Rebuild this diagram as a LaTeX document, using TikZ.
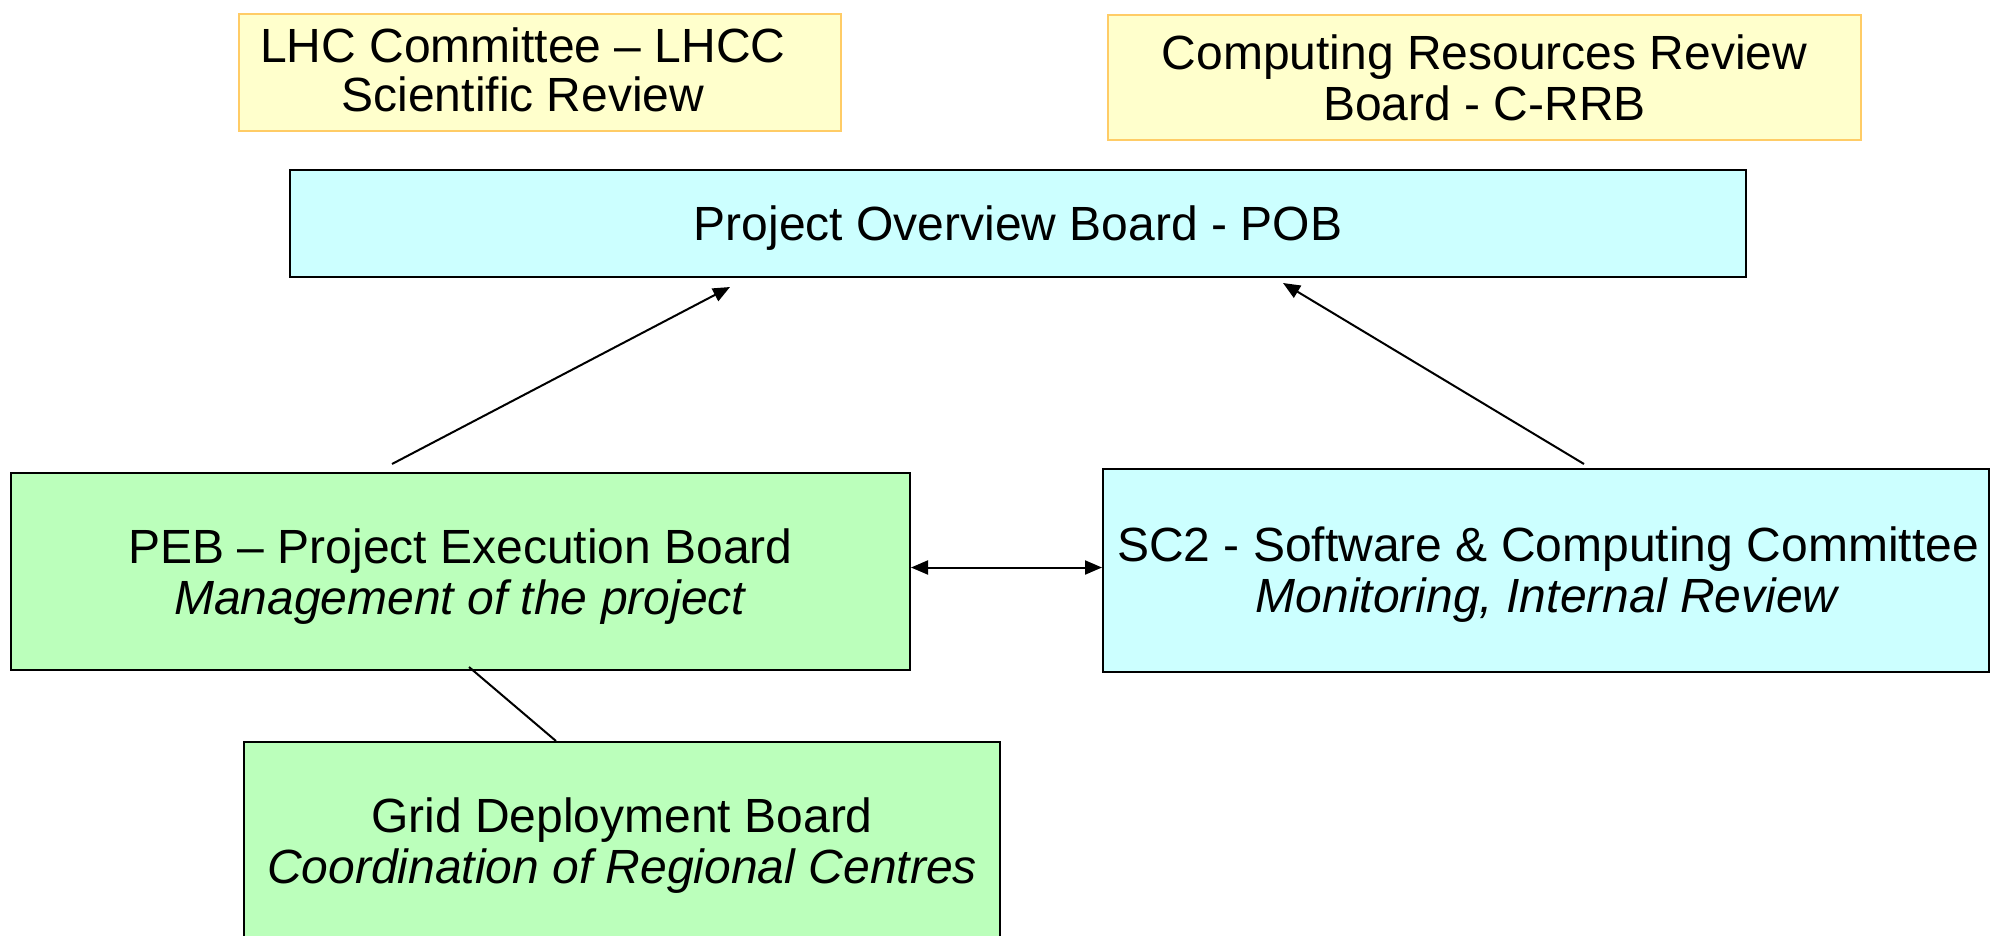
\documentclass[tikz,border=0pt]{standalone}
\usepackage{fontspec}
\setmainfont{Liberation Sans}
\usetikzlibrary{arrows.meta,calc}
\definecolor{yfill}{HTML}{FFFFCC}
\definecolor{ydraw}{HTML}{FFCC66}
\definecolor{cfill}{HTML}{CCFFFF}
\definecolor{gfill}{HTML}{BBFFBB}
\tikzset{
  box/.style={rectangle, inner sep=0pt},
  txt/.style={inner sep=0pt, align=center, font=\fontsize{48pt}{51pt}\selectfont},
  ybox/.style={box, fill=yfill, draw=ydraw, line width=2.5pt},
  cbox/.style={box, fill=cfill, draw=black, line width=2pt},
  gbox/.style={box, fill=gfill, draw=black, line width=2pt},
  conn/.style={line width=2pt, draw=black},
  tip/.style={-{Triangle[length=17pt,width=14pt]}},
}
\begin{document}
\begin{tikzpicture}[x=1pt,y=-1pt]
\useasboundingbox (0,0) rectangle (1993,935);
\clip (0,0) rectangle (1993,935);
\node[ybox, minimum width=602pt, minimum height=117pt] (lhcc) at (540,72.5) {};
\node[txt, font=\fontsize{48pt}{49pt}\selectfont] (lhcct) at ([xshift=-17pt,yshift=3pt]lhcc.center) {LHC Committee – LHCC\\Scientific Review};
\node[ybox, minimum width=753pt, minimum height=125pt] (crrb) at (1484.5,77.5) {};
\node[txt] (crrbt) at (crrb.center) {Computing Resources Review\\Board - C-RRB};
\node[cbox, minimum width=1456pt, minimum height=107pt] (pob) at (1018,223.5) {};
\node[txt] (pobt) at ([yshift=-5pt]pob.center) {Project Overview Board - POB};
\node[gbox, minimum width=899pt, minimum height=197pt] (peb) at (460.5,571.5) {};
\node[txt] (pebt) at ([yshift=-5pt]peb.center) {PEB – Project Execution Board\\\textit{Management of the project}};
\node[cbox, minimum width=886pt, minimum height=203pt] (sc2) at (1546,570.5) {};
\node[txt] (sc2t) at ([xshift=2pt,yshift=-4pt]sc2.center) {SC2 - Software \& Computing Committee\\\textit{Monitoring, Internal Review}};
\node[gbox, minimum width=756pt, minimum height=198pt] (gdb) at (622,841) {};
\node[txt] (gdbt) at ([yshift=-5pt]gdb.center) {Grid Deployment Board\\\textit{Coordination of Regional Centres}};
\coordinate (pebtop) at ($(peb.north west)+(382,-8)$);
\coordinate (pobl) at ($(pob.south west)+(441,9)$);
\coordinate (sc2top) at ($(sc2.north west)+(482,-4)$);
\coordinate (pobr) at ($(pob.south west)+(994,5)$);
\coordinate (pebbot) at ($(peb.south west)+(459,-4)$);
\coordinate (gdbtop) at ($(gdb.north west)+(313,0)$);
\draw[conn, tip] (pebtop) -- (pobl);
\draw[conn, tip] (sc2top) -- (pobr);
\draw[conn, {Triangle[length=17pt,width=14pt]}-{Triangle[length=17pt,width=14pt]}] ([yshift=4pt]peb.east) -- ([yshift=4pt]peb.east -| sc2.west);
\draw[conn] (pebbot) -- (gdbtop);
\end{tikzpicture}
\end{document}
